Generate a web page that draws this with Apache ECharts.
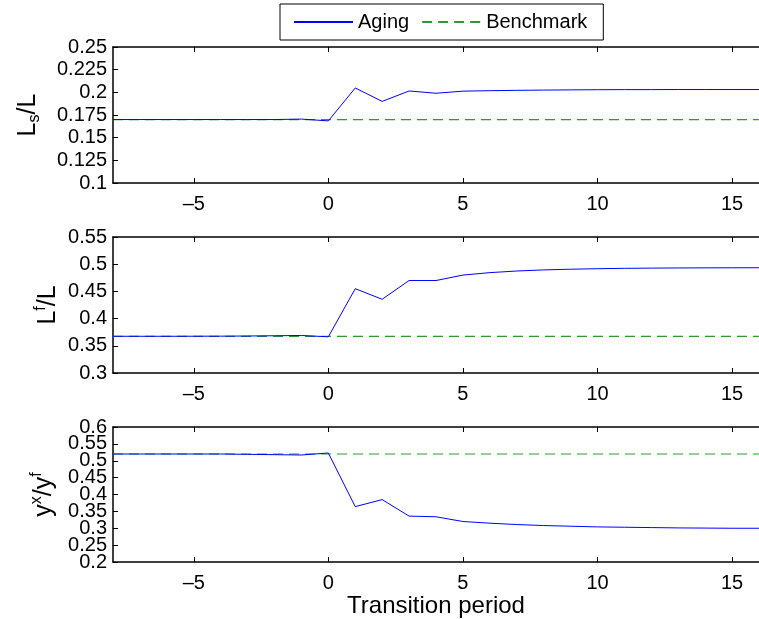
<!DOCTYPE html>
<html>
<head>
<meta charset="utf-8">
<script src="https://cdn.jsdelivr.net/npm/echarts@6/dist/echarts.min.js"></script>
<style>html,body{margin:0;padding:0;background:#fff}#c{width:759px;height:619px}</style>
</head>
<body>
<div id="c"></div>
<script>
var periods = [-8,-7,-6,-5,-4,-3,-2,-1,0,1,2,3,4,5,6,7,8,9,10,11,12,13,14,15,16];
var lsAging = [0.170,0.170,0.170,0.170,0.170,0.170,0.170,0.1705,0.1685,0.2048,0.190,0.2015,0.199,0.2013,0.2018,0.2022,0.2025,0.2027,0.2029,0.203,0.203,0.2031,0.2031,0.2031,0.2031];
var lsBench = 0.170;
var lfAging = [0.3675,0.3675,0.3675,0.3676,0.3677,0.368,0.3685,0.369,0.3665,0.455,0.4355,0.470,0.470,0.480,0.4845,0.4875,0.4895,0.4908,0.4917,0.4924,0.4928,0.4931,0.4933,0.4934,0.4935];
var lfBench = 0.3675;
var yxAging = [0.520,0.520,0.520,0.520,0.520,0.519,0.518,0.517,0.523,0.364,0.385,0.336,0.334,0.320,0.315,0.311,0.308,0.306,0.304,0.303,0.302,0.301,0.3005,0.300,0.300];
var yxBench = 0.520;
var yTicks1 = [0.1,0.125,0.15,0.175,0.2,0.225,0.25];
var yTicks2 = [0.3,0.35,0.4,0.45,0.5,0.55];
var yTicks3 = [0.2,0.25,0.3,0.35,0.4,0.45,0.5,0.55,0.6];
var xRange = [-8, 16];
var xTickValues = [-5, 0, 5, 10, 15];

var FONT = '"Liberation Sans",Arial,Helvetica,sans-serif';
var chart = echarts.init(document.getElementById('c'));
function pairs(vals){ return periods.map(function(x,i){return [x, vals[i]];}); }
function flat(v){ return periods.map(function(x){return [x, v];}); }

var grids = [
  {left:113, width:655, top:47, height:136},
  {left:113, width:655, top:237, height:136},
  {left:113, width:655, top:427, height:135}
];
var yt = [yTicks1, yTicks2, yTicks3];
var names = ['{m|L}{sub|s}{m|/L}', '{m|L}{sup|f}{m|/L}', '{m|y}{sup|x}{m|/y}{sup|f}'];
var nameGaps = [70, 50, 54];
var xAxes = [], yAxes = [], extraY = [], series = [];
var rich = {
  m:{fontSize:25, fontFamily:FONT, color:'#000', lineHeight:30, verticalAlign:'middle'},
  sub:{fontSize:16, fontFamily:FONT, color:'#000', lineHeight:30, verticalAlign:'bottom'},
  sup:{fontSize:16, fontFamily:FONT, color:'#000', lineHeight:30, verticalAlign:'top'}
};
var labelStyle = {fontSize:20, fontFamily:FONT, color:'#000', margin:6, showMinLabel:true, showMaxLabel:true, hideOverlap:false};
var data = [[lsAging, lsBench],[lfAging, lfBench],[yxAging, yxBench]];
for (var g=0; g<3; g++){
  xAxes.push({
    type:'value', gridIndex:g, min:xRange[0], max:xRange[1],
    position:'bottom',
    axisLine:{show:true, onZero:false, lineStyle:{color:'#000', width:1.5}},
    axisTick:{show:true, inside:true, length:5, customValues:xTickValues, lineStyle:{color:'#000'}},
    axisLabel:{show:true, fontSize:20, fontFamily:FONT, color:'#000', margin:11, customValues:xTickValues,
      formatter:function(v){ return String(v).replace('-', '\u2013'); }},
    splitLine:{show:false},
    name: g===2 ? 'Transition period' : '',
    nameLocation:'middle', nameGap:32,
    nameTextStyle:{fontSize:24, fontFamily:FONT, color:'#000'}
  });
  xAxes.push({
    type:'value', gridIndex:g, min:xRange[0], max:xRange[1],
    position:'top',
    axisLine:{show:true, onZero:false, lineStyle:{color:'#000', width:1.5}},
    axisTick:{show:true, inside:true, length:5, customValues:xTickValues, lineStyle:{color:'#000'}},
    axisLabel:{show:false}, splitLine:{show:false}
  });
  var ticks = yt[g];
  var evenT = ticks.filter(function(v,i){return i%2===0;});
  var oddT = ticks.filter(function(v,i){return i%2===1;});
  yAxes.push({
    type:'value', gridIndex:g, min:ticks[0], max:ticks[ticks.length-1], position:'left', offset:0,
    axisLine:{show:true, onZero:false, lineStyle:{color:'#000', width:1.5}},
    axisTick:{show:true, inside:true, length:5, customValues:ticks, lineStyle:{color:'#000'}},
    axisLabel:Object.assign({customValues:evenT}, labelStyle),
    splitLine:{show:false},
    name:names[g], nameLocation:'middle', nameRotate:90, nameGap:nameGaps[g],
    nameTextStyle:{rich:rich}
  });
  extraY.push({
    type:'value', gridIndex:g, min:ticks[0], max:ticks[ticks.length-1], position:'left', offset:0,
    axisLine:{show:false, onZero:false}, axisTick:{show:false},
    axisLabel:Object.assign({customValues:oddT}, labelStyle),
    splitLine:{show:false}
  });
  series.push({
    name:'Benchmark', type:'line', xAxisIndex:2*g, yAxisIndex:g, data:flat(data[g][1]),
    showSymbol:false, symbol:'none', z:2, lineStyle:{color:'#2f9a2f', width:1.2, type:[10,6]}, color:'#2f9a2f', animation:false
  });
  series.push({
    name:'Aging', type:'line', xAxisIndex:2*g, yAxisIndex:g, data:pairs(data[g][0]),
    showSymbol:false, symbol:'none', z:3, lineStyle:{color:'#0000ff', width:1}, color:'#0000ff', animation:false
  });
}

chart.setOption({
  animation:false,
  grid: grids,
  xAxis: xAxes,
  yAxis: yAxes.concat(extraY),
  legend: {
    data:['Aging','Benchmark'], top:4, left:280,
    itemWidth:59, itemHeight:14, itemGap:12,
    padding:[8,16,8,13],
    borderColor:'#000', borderWidth:1,
    itemStyle:{opacity:0},
    textStyle:{fontSize:20, fontFamily:FONT, color:'#000'},
    selectedMode:false
  },
  series: series
});
</script>
</body>
</html>
